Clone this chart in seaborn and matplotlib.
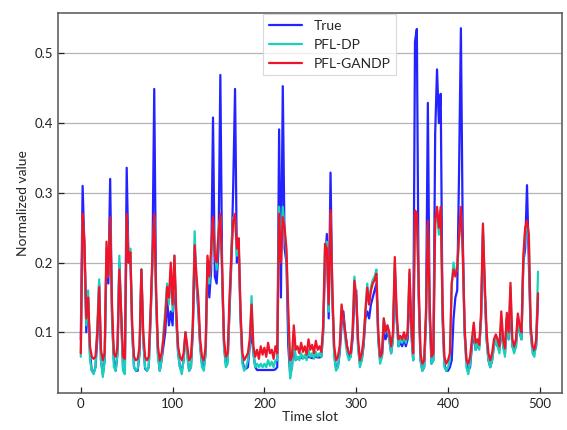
import numpy as np
import pandas as pd
import matplotlib
matplotlib.use('Agg')
import matplotlib.pyplot as plt
import seaborn as sns

#####################################################################
# time slots (every 2nd slot)
time_slot = list(range(0, 500, 2))

true_vals = [
    0.09, 0.31, 0.22, 0.10, 0.15, 0.07, 0.045, 0.042, 0.05, 0.09,
    0.17, 0.06, 0.04, 0.06, 0.21, 0.17, 0.32, 0.12, 0.06, 0.045,
    0.07, 0.20, 0.12, 0.05, 0.042, 0.336, 0.20, 0.21, 0.10, 0.05,
    0.045, 0.045, 0.07, 0.19, 0.09, 0.048, 0.045, 0.05, 0.12, 0.20,
    0.449, 0.15, 0.07, 0.045, 0.06, 0.08, 0.10, 0.15, 0.11, 0.13,
    0.11, 0.19, 0.12, 0.07, 0.05, 0.045, 0.06, 0.10, 0.07, 0.045,
    0.05, 0.10, 0.22, 0.17, 0.13, 0.08, 0.055, 0.05, 0.07, 0.20,
    0.15, 0.19, 0.408, 0.18, 0.17, 0.22, 0.469, 0.18, 0.08, 0.055,
    0.06, 0.13, 0.20, 0.309, 0.449, 0.20, 0.22, 0.12, 0.06, 0.048,
    0.048, 0.05, 0.08, 0.10, 0.07, 0.05, 0.046, 0.046, 0.046, 0.046,
    0.046, 0.046, 0.046, 0.046, 0.046, 0.046, 0.047, 0.05, 0.391, 0.15,
    0.453, 0.22, 0.20, 0.08, 0.04, 0.05, 0.09, 0.06, 0.063, 0.064,
    0.063, 0.064, 0.064, 0.063, 0.065, 0.064, 0.063, 0.064, 0.065, 0.064,
    0.064, 0.065, 0.10, 0.20, 0.241, 0.12, 0.329, 0.15, 0.07, 0.048,
    0.05, 0.07, 0.11, 0.13, 0.10, 0.08, 0.065, 0.065, 0.09, 0.15,
    0.16, 0.08, 0.055, 0.06, 0.08, 0.12, 0.13, 0.12, 0.14, 0.15,
    0.16, 0.17, 0.09, 0.06, 0.065, 0.10, 0.09, 0.10, 0.09, 0.07,
    0.09, 0.19, 0.12, 0.08, 0.085, 0.08, 0.09, 0.08, 0.09, 0.17,
    0.10, 0.06, 0.517, 0.535, 0.15, 0.06, 0.045, 0.05, 0.12, 0.429,
    0.12, 0.055, 0.06, 0.386, 0.477, 0.40, 0.442, 0.12, 0.055, 0.045,
    0.045, 0.05, 0.06, 0.12, 0.15, 0.16, 0.331, 0.536, 0.24, 0.10,
    0.06, 0.045, 0.05, 0.08, 0.10, 0.075, 0.08, 0.08, 0.12, 0.24,
    0.16, 0.09, 0.06, 0.05, 0.06, 0.08, 0.09, 0.08, 0.075, 0.11,
    0.08, 0.07, 0.12, 0.09, 0.14, 0.08, 0.075, 0.08, 0.12, 0.10,
    0.09, 0.20, 0.22, 0.311, 0.20, 0.10, 0.075, 0.072, 0.08, 0.15,
]

pfl_dp = [
    0.065, 0.265, 0.22, 0.11, 0.16, 0.06, 0.045, 0.04, 0.05, 0.11,
    0.176, 0.06, 0.036, 0.06, 0.22, 0.18, 0.26, 0.13, 0.05, 0.045,
    0.07, 0.21, 0.12, 0.045, 0.04, 0.265, 0.21, 0.22, 0.10, 0.05,
    0.045, 0.048, 0.07, 0.19, 0.09, 0.05, 0.045, 0.05, 0.12, 0.20,
    0.265, 0.15, 0.065, 0.045, 0.06, 0.10, 0.13, 0.17, 0.14, 0.19,
    0.13, 0.21, 0.12, 0.07, 0.05, 0.04, 0.06, 0.10, 0.065, 0.045,
    0.05, 0.11, 0.245, 0.17, 0.14, 0.08, 0.05, 0.045, 0.07, 0.20,
    0.17, 0.21, 0.26, 0.22, 0.19, 0.25, 0.265, 0.18, 0.08, 0.05,
    0.055, 0.14, 0.22, 0.265, 0.265, 0.21, 0.23, 0.12, 0.055, 0.045,
    0.05, 0.06, 0.08, 0.152, 0.07, 0.05, 0.055, 0.05, 0.055, 0.05,
    0.055, 0.05, 0.06, 0.052, 0.058, 0.05, 0.06, 0.06, 0.28, 0.21,
    0.28, 0.245, 0.21, 0.12, 0.034, 0.05, 0.10, 0.06, 0.065, 0.06,
    0.07, 0.062, 0.068, 0.06, 0.075, 0.065, 0.07, 0.062, 0.072, 0.065,
    0.07, 0.065, 0.10, 0.22, 0.23, 0.13, 0.27, 0.15, 0.065, 0.045,
    0.05, 0.075, 0.13, 0.12, 0.09, 0.07, 0.06, 0.065, 0.10, 0.18,
    0.15, 0.08, 0.05, 0.06, 0.085, 0.13, 0.17, 0.14, 0.165, 0.175,
    0.18, 0.19, 0.09, 0.055, 0.065, 0.12, 0.10, 0.11, 0.09, 0.07,
    0.09, 0.20, 0.12, 0.08, 0.09, 0.085, 0.095, 0.085, 0.10, 0.185,
    0.10, 0.06, 0.27, 0.265, 0.16, 0.06, 0.045, 0.05, 0.12, 0.255,
    0.13, 0.055, 0.06, 0.255, 0.275, 0.24, 0.275, 0.13, 0.05, 0.045,
    0.05, 0.06, 0.17, 0.20, 0.185, 0.19, 0.235, 0.275, 0.21, 0.10,
    0.05, 0.04, 0.055, 0.085, 0.11, 0.075, 0.085, 0.075, 0.12, 0.25,
    0.16, 0.09, 0.06, 0.05, 0.06, 0.08, 0.09, 0.08, 0.07, 0.12,
    0.08, 0.065, 0.12, 0.09, 0.165, 0.08, 0.07, 0.08, 0.12, 0.10,
    0.09, 0.20, 0.245, 0.255, 0.23, 0.10, 0.07, 0.065, 0.085, 0.187,
]

pfl_gandp = [
    0.07, 0.27, 0.23, 0.12, 0.15, 0.08, 0.065, 0.062, 0.065, 0.10,
    0.165, 0.075, 0.06, 0.07, 0.23, 0.18, 0.265, 0.14, 0.07, 0.065,
    0.08, 0.19, 0.13, 0.065, 0.062, 0.27, 0.20, 0.215, 0.11, 0.065,
    0.06, 0.062, 0.08, 0.19, 0.10, 0.065, 0.06, 0.065, 0.13, 0.21,
    0.27, 0.16, 0.08, 0.06, 0.07, 0.09, 0.12, 0.165, 0.15, 0.20,
    0.14, 0.21, 0.13, 0.08, 0.065, 0.06, 0.07, 0.10, 0.08, 0.06,
    0.065, 0.11, 0.225, 0.18, 0.15, 0.09, 0.065, 0.06, 0.08, 0.21,
    0.18, 0.22, 0.265, 0.21, 0.20, 0.24, 0.27, 0.19, 0.09, 0.065,
    0.07, 0.15, 0.21, 0.26, 0.27, 0.22, 0.235, 0.13, 0.07, 0.06,
    0.065, 0.07, 0.09, 0.14, 0.08, 0.065, 0.075, 0.062, 0.08, 0.068,
    0.078, 0.065, 0.085, 0.07, 0.075, 0.062, 0.08, 0.07, 0.27, 0.20,
    0.265, 0.25, 0.22, 0.13, 0.06, 0.065, 0.11, 0.075, 0.08, 0.07,
    0.085, 0.072, 0.08, 0.068, 0.09, 0.075, 0.082, 0.07, 0.088, 0.075,
    0.08, 0.072, 0.11, 0.227, 0.22, 0.14, 0.275, 0.16, 0.08, 0.06,
    0.065, 0.08, 0.14, 0.12, 0.10, 0.08, 0.07, 0.07, 0.10, 0.174,
    0.15, 0.09, 0.06, 0.07, 0.09, 0.13, 0.164, 0.14, 0.16, 0.17,
    0.175, 0.184, 0.10, 0.065, 0.07, 0.12, 0.10, 0.11, 0.10, 0.08,
    0.10, 0.208, 0.13, 0.09, 0.095, 0.09, 0.10, 0.09, 0.10, 0.19,
    0.11, 0.07, 0.275, 0.27, 0.17, 0.07, 0.055, 0.06, 0.13, 0.26,
    0.14, 0.065, 0.07, 0.26, 0.28, 0.25, 0.28, 0.14, 0.065, 0.055,
    0.06, 0.07, 0.17, 0.19, 0.18, 0.193, 0.24, 0.28, 0.22, 0.11,
    0.06, 0.055, 0.065, 0.09, 0.114, 0.085, 0.09, 0.082, 0.13, 0.256,
    0.17, 0.10, 0.07, 0.06, 0.07, 0.09, 0.097, 0.09, 0.08, 0.13,
    0.09, 0.077, 0.128, 0.10, 0.171, 0.09, 0.08, 0.09, 0.127, 0.11,
    0.10, 0.21, 0.25, 0.26, 0.24, 0.11, 0.08, 0.075, 0.09, 0.156,
]

series_names = ['True', 'PFL-DP', 'PFL-GANDP']
colors = ['#2323ff', '#19d0b8', '#f0142a']
#####################################################################

sns.set_style('white')
plt.rcParams['font.family'] = ['Lato', 'DejaVu Sans']

df = pd.DataFrame({
    'Time slot': time_slot * 3,
    'Normalized value': true_vals + pfl_dp + pfl_gandp,
    'series': ['True'] * len(time_slot) + ['PFL-DP'] * len(time_slot)
              + ['PFL-GANDP'] * len(time_slot),
})

fig = plt.figure(figsize=(5.67, 4.30), dpi=100)
ax = fig.add_axes([0.102, 0.086, 0.889, 0.884])

sns.lineplot(data=df, x='Time slot', y='Normalized value', hue='series',
             hue_order=series_names, palette=colors, linewidth=1.6, ax=ax)

ax.set_xlim(-25, 524)
ax.set_ylim(0.013, 0.558)
ax.set_xticks([0, 100, 200, 300, 400, 500])
ax.set_yticks([0.1, 0.2, 0.3, 0.4, 0.5])
ax.yaxis.grid(True, color='#b4b4b4', linewidth=0.9)
ax.xaxis.grid(False)
ax.set_axisbelow(True)
ax.tick_params(direction='in', length=4, width=0.9, labelsize=9.5,
               colors='#222222', bottom=True, left=True)
for s in ax.spines.values():
    s.set_color('#555555')
    s.set_linewidth(1.1)
ax.set_xlabel('Time slot', fontsize=10, labelpad=1)
ax.set_ylabel('Normalized value', fontsize=10, labelpad=4)

leg = ax.legend(loc='upper left', bbox_to_anchor=(0.405, 1.0),
                borderaxespad=0.1, fontsize=10, handlelength=2.4,
                frameon=True, fancybox=False, edgecolor='#d0d0d0')
leg.get_frame().set_linewidth(0.8)

fig.savefig('out.png', dpi=100)
